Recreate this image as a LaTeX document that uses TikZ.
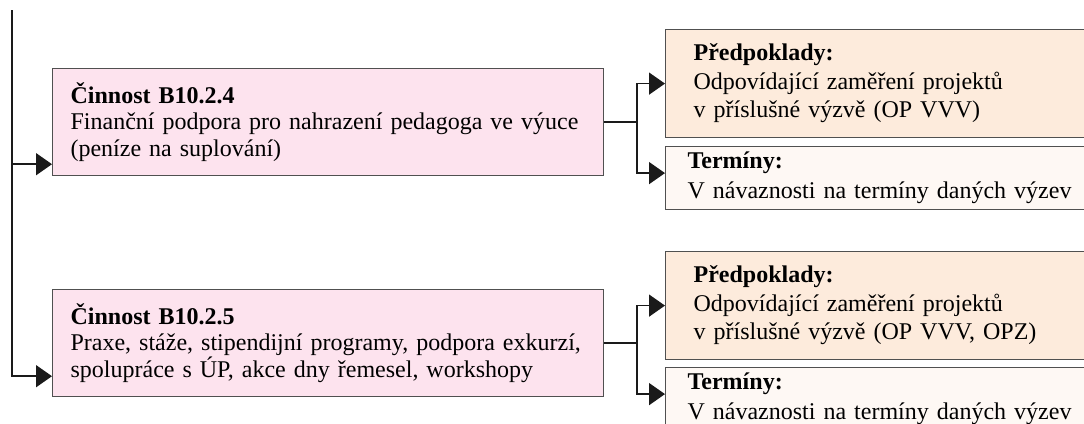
\documentclass[tikz,border=0pt]{standalone}
\usepackage{fontspec}
\setmainfont{Liberation Serif}
\usetikzlibrary{arrows.meta,calc}
\definecolor{pinkfill}{HTML}{FDE3EE}
\definecolor{peachfill}{HTML}{FDEBDC}
\definecolor{palefill}{HTML}{FEF8F4}
\definecolor{edgegray}{HTML}{505050}
\definecolor{linecol}{HTML}{1A1A1A}
\begin{document}
\begin{tikzpicture}[x=1pt,y=-1pt,
  act/.style={draw=edgegray, line width=1.2pt, fill=pinkfill, anchor=north west,
    minimum width=551pt, minimum height=107pt, text width=515pt, inner xsep=18pt,
    inner ysep=0pt, align=left, font=\fontsize{24}{26.5}\selectfont},
  pred/.style={draw=edgegray, line width=1.2pt, fill=peachfill, anchor=north west,
    minimum width=440pt, minimum height=108pt, text width=384pt, inner xsep=28pt,
    inner ysep=0pt, align=left, font=\fontsize{24}{28.5}\selectfont},
  term/.style={draw=edgegray, line width=1.2pt, fill=palefill, anchor=north west,
    minimum width=440pt, minimum height=63pt, text width=396pt, inner xsep=22pt,
    inner ysep=0pt, align=left, font=\fontsize{24}{30}\selectfont},
  conn/.style={draw=linecol, line width=1.6pt},
  arr/.style={conn, -{Triangle[length=16pt,width=22pt]}},
]
\useasboundingbox (0,0) rectangle (1084,423);

\node[act] (b1) at (52,68) {\textbf{Činnost B10.2.4}\\Finanční podpora pro nahrazení pedagoga ve výuce\\(peníze na suplování)};
\node[act] (b2) at (52,289) {\textbf{Činnost B10.2.5}\\Praxe, stáže, stipendijní programy, podpora exkurzí,\\spolupráce s ÚP, akce dny řemesel, workshopy};

\node[pred] (p1) at (665,29) {\textbf{Předpoklady:}\\Odpovídající zaměření projektů\\v příslušné výzvě (OP VVV)};
\node[term] (t1) at (665,146) {\textbf{Termíny:}\\V návaznosti na termíny daných výzev};
\node[pred] (p2) at (665,251) {\textbf{Předpoklady:}\\Odpovídající zaměření projektů\\v příslušné výzvě (OP VVV, OPZ)};
\node[term] (t2) at (665,367) {\textbf{Termíny:}\\V návaznosti na termíny daných výzev};

\coordinate (top) at (12,10);
\coordinate (a1) at ($(b1.south west)+(0,-12)$);
\coordinate (a2) at ($(b2.south west)+(0,-21)$);
\draw[arr] (top) |- (a2);
\draw[arr] (top|-a1) -- (a1);

\coordinate (j1) at ($(b1.east)+(33,0)$);
\coordinate (j2) at ($(b2.east)+(33,0)$);
\coordinate (c1) at ($(t1.west)+(0,-5)$);
\coordinate (c2) at ($(t2.west)+(0,-5)$);
\draw[conn] (b1.east) -- (j1);
\draw[arr] (j1) |- (p1.west);
\draw[arr] (j1) |- (c1);
\draw[conn] (b2.east) -- (j2);
\draw[arr] (j2) |- (p2.west);
\draw[arr] (j2) |- (c2);
\end{tikzpicture}
\end{document}
